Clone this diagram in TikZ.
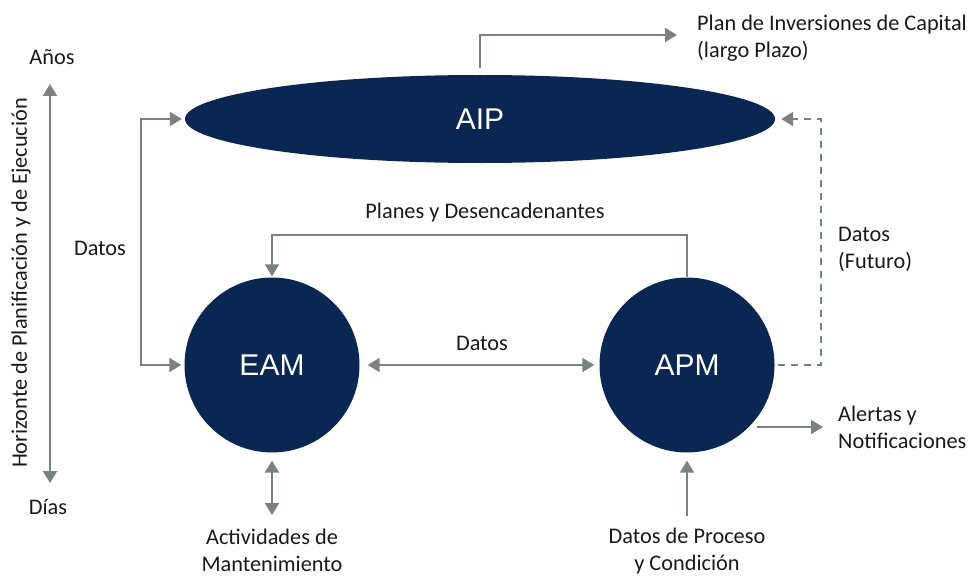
\documentclass[tikz,border=0pt]{standalone}
\usepackage{fontspec}
\setmainfont{Carlito}
\newfontfamily\arialf{Liberation Sans}
\usetikzlibrary{shapes.geometric,arrows.meta}
\definecolor{navy}{RGB}{10,38,82}
\definecolor{arrgray}{RGB}{122,130,128}
\definecolor{txt}{RGB}{25,25,25}
\tikzset{
  lbl/.style={text=txt,font=\fontsize{22.3}{27}\selectfont,inner sep=0pt},
  big/.style={fill=navy,draw=none,text=white,font=\arialf\fontsize{30}{32}\selectfont,inner sep=0pt},
  conn/.style={draw=arrgray,line width=2pt},
  tipA/.style={-{Triangle[length=12pt,width=14pt]}},
  tipB/.style={{Triangle[length=12pt,width=14pt]}-{Triangle[length=12pt,width=14pt]}},
  dashline/.style={dash pattern=on 7pt off 6pt}
}
\begin{document}
\begin{tikzpicture}[x=1pt,y=-1pt]
\useasboundingbox (0,0) rectangle (976,575);
% main nodes
\node[big,ellipse,minimum width=590pt,minimum height=88pt] (AIP) at (480,119) {AIP};
\node[big,circle,minimum size=175pt] (EAM) at (272,365) {EAM};
\node[big,circle,minimum size=175pt] (APM) at (687,365) {APM};
% labels
\node[lbl] (anos) at (52,57) {Años};
\node[lbl] (dias) at (48,507) {Días};
\node[lbl,rotate=90] (horiz) at (21,283) {Horizonte de Planificación y de Ejecución};
\node[lbl,align=left,anchor=west] (plan) at (697,38) {Plan de Inversiones de Capital\\(largo Plazo)};
\node[lbl] (datosL) at (100,248) {Datos};
\node[lbl] (planes) at (485,213) {Planes y Desencadenantes};
\node[lbl] (datosM) at (482,343) {Datos};
\node[lbl,align=left,anchor=west] (futuro) at (838,249) {Datos\\(Futuro)};
\node[lbl,align=left,anchor=west] (alertas) at (838,427) {Alertas y\\Notificaciones};
\node[lbl,align=center] (activ) at (272,550) {Actividades de\\Mantenimiento};
\node[lbl,align=center] (proceso) at (687,551) {Datos de Proceso\\y Condición};
% helper coordinates
\coordinate (axtop) at (50,84);
\coordinate (axbot) at (50,483);
\coordinate (lx) at (141,0);
\coordinate (py) at (0,235);
\coordinate (dx) at (821,0);
\coordinate (plantip) at (677,35);
\coordinate (altip) at (823,0);
\coordinate (acttip) at (0,515);
\coordinate (procbase) at (0,516);
% connectors
\draw[conn,tipB] (axtop) -- (axbot);
\draw[conn,tipA] ([yshift=7pt]AIP.north) |- (plantip);
\draw[conn,tipB] ([xshift=-3pt]AIP.west) -- (lx |- AIP.west) -- (lx |- EAM.west) -- ([xshift=-3pt]EAM.west);
\draw[conn,tipA] (APM.north) -- (APM.north |- py) -- (EAM.north |- py) -- ([yshift=1pt]EAM.north);
\draw[conn,tipB] ([xshift=8pt]EAM.east) -- ([xshift=-5pt]APM.west);
\draw[conn,tipA,dashline] ([xshift=3pt]APM.east) -- (dx |- APM.east) -- (dx |- AIP.east) -- ([xshift=6pt]AIP.east);
\draw[conn,tipA] ([xshift=8pt]APM.-45) -- (altip |- APM.-45);
\draw[conn,tipB] ([yshift=-8pt]EAM.south) -- (EAM.south |- acttip);
\draw[conn,tipA] (APM.south |- procbase) -- ([yshift=-8pt]APM.south);
\end{tikzpicture}
\end{document}
